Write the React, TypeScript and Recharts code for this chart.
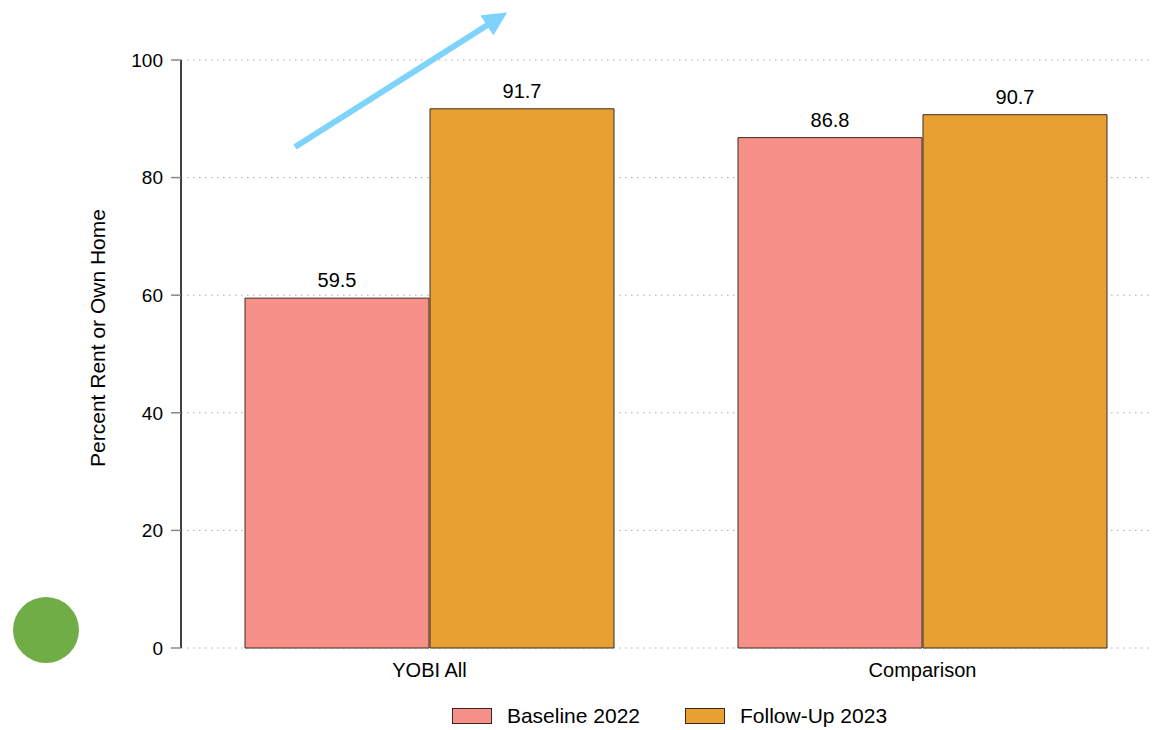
import { BarChart, Bar, XAxis, YAxis, CartesianGrid, Legend, LabelList, Label, Customized } from "recharts";

const categories = ["YOBI All", "Comparison"];
const baseline2022 = [59.5, 86.8];
const followUp2023 = [91.7, 90.7];
const yTicks = [0, 20, 40, 60, 80, 100];

const BASE_COLOR = "#F8908A";
const FOLLOW_COLOR = "#E8A033";
const EDGE = "#3d2b1f";
const FONT = "'Liberation Sans', Arial, Helvetica, sans-serif";

const data = categories.map((name, i) => ({
  name,
  baseline: baseline2022[i],
  followUp: followUp2023[i],
}));

const legendItems = [
  { label: "Baseline 2022", color: BASE_COLOR },
  { label: "Follow-Up 2023", color: FOLLOW_COLOR },
];

function LegendBox() {
  return (
    <div style={{ display: "flex", justifyContent: "center", alignItems: "center", height: 24, paddingLeft: 186, fontFamily: FONT, fontSize: 21, color: "#000" }}>
      {legendItems.map((item, i) => (
        <div key={item.label} style={{ display: "flex", alignItems: "center", marginLeft: i === 0 ? 0 : 45 }}>
          <span style={{ width: 38, height: 14, background: item.color, border: `1px solid ${EDGE}`, display: "inline-block" }} />
          <span style={{ marginLeft: 15 }}>{item.label}</span>
        </div>
      ))}
    </div>
  );
}

// arrow and dot drawn over the plot
function Decorations() {
  return (
    <g>
      <defs>
        <marker id="arrowHead" markerWidth="4" markerHeight="4" refX="2" refY="2" orient="auto" markerUnits="strokeWidth">
          <path d="M0,0 L4,2 L0,4 z" fill="#7DD3FC" />
        </marker>
      </defs>
      <line x1={295} y1={147} x2={497} y2={19} stroke="#7DD3FC" strokeWidth={6} markerEnd="url(#arrowHead)" />
      <circle cx={46} cy={630} r={33} fill="#70AD47" />
    </g>
  );
}

function AxisTitle(props: any) {
  const vb = props.viewBox;
  const x = vb.x + 97;
  const y = vb.y + vb.height / 2 - 16;
  return (
    <text x={x} y={y} transform={`rotate(-90, ${x}, ${y})`} textAnchor="middle" dominantBaseline="central" fontFamily={FONT} fontSize={21} fill="#000">
      Percent Rent or Own Home
    </text>
  );
}

export default function App() {
  return (
    <div style={{ position: "absolute", left: 0, top: 0, background: "#fff" }}>
      <BarChart
        width={1155}
        height={730}
        data={data}
        margin={{ top: 60, right: 2, left: 0, bottom: 2 }}
        barCategoryGap={62}
        barGap={1}
      >
        <CartesianGrid vertical={false} stroke="#aaa" strokeDasharray="1.5 4.5" />
        <XAxis
          dataKey="name"
          axisLine={false}
          tickLine={false}
          tickSize={0}
          tickMargin={15}
          height={56}
          padding={{ left: 2, right: -16 }}
          tick={{ fontFamily: FONT, fontSize: 20, fill: "#000" }}
        />
        <YAxis
          width={181}
          domain={[0, 100]}
          ticks={yTicks}
          axisLine={{ stroke: "#000", strokeWidth: 1.5 }}
          tickLine={{ stroke: "#888", strokeWidth: 1.5 }}
          tickSize={10}
          tickMargin={8}
          tick={{ fontFamily: FONT, fontSize: 19, fill: "#000" }}
        >
          <Label content={<AxisTitle />} />
        </YAxis>
        <Legend verticalAlign="bottom" height={24} content={<LegendBox />} />
        <Bar dataKey="baseline" name="Baseline 2022" fill={BASE_COLOR} stroke={EDGE} strokeWidth={1} isAnimationActive={false}>
          <LabelList dataKey="baseline" position="top" offset={11} formatter={(v: any) => Number(v).toFixed(1)} style={{ fontFamily: FONT, fontSize: 20, fill: "#000" }} />
        </Bar>
        <Bar dataKey="followUp" name="Follow-Up 2023" fill={FOLLOW_COLOR} stroke={EDGE} strokeWidth={1} isAnimationActive={false}>
          <LabelList dataKey="followUp" position="top" offset={11} formatter={(v: any) => Number(v).toFixed(1)} style={{ fontFamily: FONT, fontSize: 20, fill: "#000" }} />
        </Bar>
        <Customized component={<Decorations />} />
      </BarChart>
    </div>
  );
}
